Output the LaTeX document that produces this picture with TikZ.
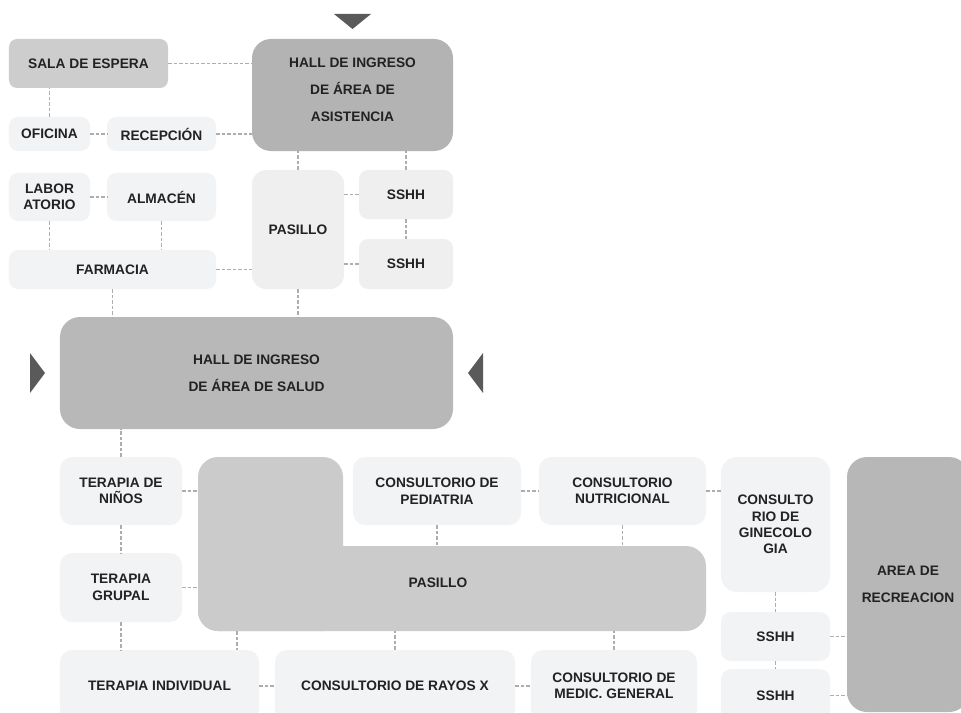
\documentclass[tikz,border=0pt]{standalone}
\usepackage{fontspec}
\setmainfont{Liberation Sans}
\definecolor{boxlight}{HTML}{F2F3F5}
\definecolor{boxpale}{HTML}{EFEFEF}
\definecolor{salac}{HTML}{CDCDCD}
\definecolor{hallac}{HTML}{B3B3B3}
\definecolor{hallsc}{HTML}{B8B8B8}
\definecolor{pasc}{HTML}{CBCBCB}
\definecolor{recrec}{HTML}{B7B7B7}
\definecolor{tric}{HTML}{5A5A5A}
\definecolor{linkc}{HTML}{ADADAD}
\definecolor{txtc}{HTML}{222222}
\begin{document}
\begin{tikzpicture}[x=1bp,y=-1bp,
  room/.style={rectangle, rounded corners=9bp, fill=boxlight, draw=none, inner sep=0pt,
    align=center, text=txtc, font=\bfseries\fontsize{13.8}{16.5}\selectfont},
  bigroom/.style={room, rounded corners=19bp, font=\bfseries\fontsize{13.8}{27}\selectfont},
  label/.style={inner sep=0pt, align=center, text=txtc, font=\bfseries\fontsize{13.8}{27}\selectfont},
  link/.style={draw=linkc, line width=1.2bp, dash pattern=on 3.5bp off 2bp},
  tri/.style={fill=tric, draw=none}]
\useasboundingbox (0,0) rectangle (961,713);
% entrance triangles
\fill[tri] (334,14) -- (371,14) -- (352.5,29) -- cycle;
\fill[tri] (30,353) -- (45,373) -- (30,393) -- cycle;
\fill[tri] (483,353) -- (468,373) -- (483,393) -- cycle;
% top area
\node[room, fill=salac, rounded corners=8bp, minimum width=159bp, minimum height=49bp] (sala) at (88.5,63.5) {SALA DE ESPERA};
\node[bigroom, fill=hallac, minimum width=201bp, minimum height=112bp] (hallA) at (352.5,95) {};
\node[label] (hallAtext) at ([yshift=5bp]hallA.center) {HALL DE INGRESO\\DE ÁREA DE\\ASISTENCIA};
\node[room, minimum width=81bp, minimum height=34bp] (oficina) at (49.5,134) {OFICINA};
\node[room, minimum width=109bp, minimum height=34bp] (recep) at (161.5,134) {RECEPCIÓN};
\node[room, minimum width=81bp, minimum height=48bp] (lab) at (49.5,197) {LABOR\\ATORIO};
\node[room, minimum width=109bp, minimum height=48bp] (alm) at (161.5,197) {ALMACÉN};
\node[room, minimum width=207bp, minimum height=39bp] (farm) at (112.5,269.5) {FARMACIA};
\node[room, fill=boxpale, rounded corners=14bp, minimum width=92bp, minimum height=119bp] (pas1) at (298,229.5) {PASILLO};
\node[room, fill=boxpale, minimum width=94bp, minimum height=49bp] (sshh1) at (406,194.5) {SSHH};
\node[room, fill=boxpale, minimum width=94bp, minimum height=50bp] (sshh2) at (406,264) {SSHH};
% hall salud
\node[bigroom, fill=hallsc, rounded corners=20bp, minimum width=393bp, minimum height=112bp] (hallS) at (256.5,373) {HALL DE INGRESO\\DE ÁREA DE SALUD};
% bottom area
\fill[pasc, rounded corners=20bp] (198,457) rectangle (343,631);
\fill[pasc, rounded corners=20bp] (198,546) rectangle (706,631);
\node[label] (pasL) at (438,583) {PASILLO};
\coordinate (Lwest) at (198,540);
\coordinate (Lsouth) at (450,631);
\coordinate (Larm) at (500,546);
\coordinate (Lind) at (237,631);
\node[room, rounded corners=12bp, minimum width=122bp, minimum height=68bp] (ninos) at (121,491) {TERAPIA DE\\NIÑOS};
\node[room, rounded corners=12bp, minimum width=122bp, minimum height=69bp] (grupal) at (121,587.5) {TERAPIA\\GRUPAL};
\node[room, rounded corners=12bp, minimum width=199bp, minimum height=72bp] (indiv) at (159.5,686) {TERAPIA INDIVIDUAL};
\node[room, rounded corners=12bp, minimum width=240bp, minimum height=72bp] (rayos) at (395,686) {CONSULTORIO DE RAYOS X};
\node[room, rounded corners=12bp, minimum width=166bp, minimum height=72bp] (medic) at (614,686) {CONSULTORIO DE\\MEDIC. GENERAL};
\node[room, rounded corners=12bp, minimum width=168bp, minimum height=68bp] (pedi) at (437,491) {CONSULTORIO DE\\PEDIATRIA};
\node[room, rounded corners=12bp, minimum width=167bp, minimum height=68bp] (nutri) at (622.5,491) {CONSULTORIO\\NUTRICIONAL};
\node[room, rounded corners=16bp, minimum width=109bp, minimum height=135bp] (gine) at (775.5,524.5) {CONSULTO\\RIO DE\\GINECOLO\\GIA};
\node[room, rounded corners=10bp, minimum width=109bp, minimum height=49bp] (sshh3) at (775.5,636.5) {SSHH};
\node[room, rounded corners=10bp, minimum width=109bp, minimum height=53bp] (sshh4) at (775.5,695.5) {SSHH};
\node[bigroom, fill=recrec, rounded corners=20bp, minimum width=122bp, minimum height=255bp] (recre) at (908,584.5) {AREA DE\\RECREACION};
% connectors top
\draw[link] (sala.east) -- (sala.east -| hallA.west);
\draw[link] (oficina.north) -- (oficina.north |- sala.south);
\draw[link] (oficina.east) -- (recep.west);
\draw[link] (recep.east) -- (recep.east -| hallA.west);
\draw[link] (pas1.north) -- (pas1.north |- hallA.south);
\draw[link] (sshh1.north) -- (sshh1.north |- hallA.south);
\draw[link] (sshh1.west) -- (sshh1.west -| pas1.east);
\draw[link] (sshh2.west) -- (sshh2.west -| pas1.east);
\draw[link] (sshh1.south) -- (sshh2.north);
\draw[link] (lab.east) -- (alm.west);
\draw[link] (lab.south) -- (lab.south |- farm.north);
\draw[link] (alm.south) -- (alm.south |- farm.north);
\draw[link] (farm.east) -- (farm.east -| pas1.west);
\draw[link] (farm.south) -- (farm.south |- hallS.north);
\draw[link] (pas1.south) -- (pas1.south |- hallS.north);
% connectors bottom
\draw[link] (ninos.north) -- (ninos.north |- hallS.south);
\draw[link] (ninos.east) -- (ninos.east -| Lwest);
\draw[link] (ninos.south) -- (grupal.north);
\draw[link] (grupal.east) -- (grupal.east -| Lwest);
\draw[link] (grupal.south) -- (grupal.south |- indiv.north);
\draw[link] (Lind) -- (Lind |- indiv.north);
\draw[link] (rayos.north) -- (rayos.north |- Lsouth);
\draw[link] (medic.north) -- (medic.north |- Lsouth);
\draw[link] (indiv.east) -- (rayos.west);
\draw[link] (rayos.east) -- (medic.west);
\draw[link] (pedi.south) -- (pedi.south |- Larm);
\draw[link] (nutri.south) -- (nutri.south |- Larm);
\draw[link] (pedi.east) -- (nutri.west);
\draw[link] (nutri.east) -- (nutri.east -| gine.west);
\draw[link] (gine.south) -- (sshh3.north);
\draw[link] (sshh3.south) -- (sshh4.north);
\draw[link] (sshh3.east) -- (sshh3.east -| recre.west);
\draw[link] (sshh4.east) -- (sshh4.east -| recre.west);
\end{tikzpicture}
\end{document}
